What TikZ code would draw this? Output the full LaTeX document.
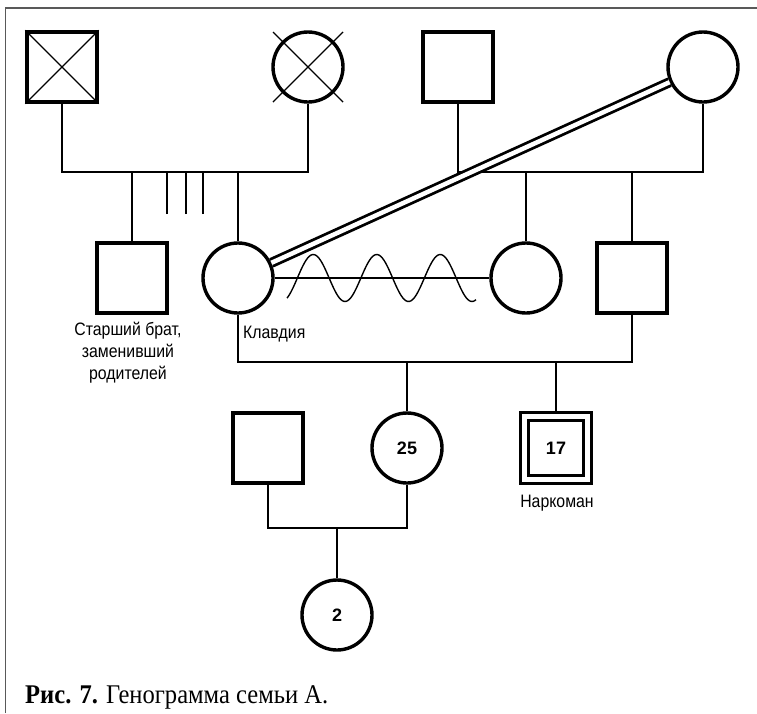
\documentclass[tikz,border=0pt]{standalone}
\usepackage{fontspec}
\setmainfont{Liberation Serif}
\newfontfamily\labfont[FakeStretch=0.88]{Liberation Sans}
\newfontfamily\numfont{Liberation Sans}
\newfontfamily\capfont[FakeStretch=0.91]{Liberation Serif}
\usetikzlibrary{calc}

\begin{document}
\begin{tikzpicture}[x=1pt,y=-1pt,
  male/.style={draw, rectangle, line width=3.4pt, minimum size=70pt, inner sep=0pt},
  female/.style={draw, circle, line width=3.4pt, minimum size=70pt, inner sep=0pt},
  link/.style={line width=2.7pt},
  cross/.style={line width=1.4pt},
  tie/.style={line width=2.8pt, double=white, double distance=4.5pt},
  lab/.style={font=\labfont\fontsize{18}{22}\selectfont, inner sep=0pt},
  age/.style={font=\numfont\bfseries\fontsize{18}{20}\selectfont},
]
\useasboundingbox (0,0) rectangle (757,713);

% frame
\draw[line width=1.6pt, black!65] (5.5,713) -- (5.5,8) -- (757,8);

% grandparents
\node[male]   (gf) at (62,67) {};
\node[female] (gm) at (308,67) {};
\node[male]   (f2) at (458,67) {};
\node[female] (m2) at (703,67) {};

% second generation
\node[male]   (brother) at (132,278) {};
\node[female] (klav)    at (238,278) {};
\node[female] (mid)     at (526,278) {};
\node[male]   (rsq)     at (632,278) {};

% third generation
\node[male]   (sil) at (268,448) {};
\node[female, age] (d25) at (407,448) {25};
\node[draw, rectangle, line width=2.2pt, minimum size=71pt, inner sep=0pt] (s17) at (556,448) {};
\node[draw, rectangle, line width=3.8pt, minimum size=55pt, inner sep=0pt, age] (s17in) at (s17) {17};

% fourth generation
\node[female, age] (g2) at (337,615) {2};

% deceased marks
\draw[cross] (gf.north west) -- (gf.south east) (gf.north east) -- (gf.south west);
\draw[cross] ($(gm)+(-35,-35)$) -- ($(gm)+(35,35)$) ($(gm)+(35,-35)$) -- ($(gm)+(-35,35)$);

% sibship bars
\coordinate (bar1) at (0,172);
\coordinate (bar2) at (0,362);
\coordinate (bar3) at (0,528);
\coordinate (t1) at (167,214);
\coordinate (t2) at (186,214);
\coordinate (t3) at (203,214);

\draw[link] (gf.south) -- (gf |- bar1) -| (gm.south);
\draw[link] (brother.north) -- (brother |- bar1);
\draw[link] (klav.north) -- (klav |- bar1);
\draw[link] (t1) -- (t1 |- bar1) (t2) -- (t2 |- bar1) (t3) -- (t3 |- bar1);

\draw[link] (f2.south) -- (f2 |- bar1) -| (m2.south);
\draw[link] (mid.north) -- (mid |- bar1);
\draw[link] (rsq.north) -- (rsq |- bar1);

\draw[link] (klav.south) -- (klav |- bar2) -| (rsq.south);
\draw[link] (d25.north) -- (d25 |- bar2);
\draw[link] (s17.north) -- (s17 |- bar2);

\draw[link] (sil.south) -- (sil |- bar3) -| (d25.south);
\draw[link] (g2.north) -- (g2 |- bar3);

% conflict between Klavdia and the middle woman
\draw[link] (klav) -- (mid);
\draw[cross, smooth] plot[domain=287:476, samples=120] (\x, {278+23.5*cos((\x-281.5)*5.6693)});

% close tie
\draw[tie] (klav) -- (m2);

% labels
\node[lab, align=center, anchor=north] (lbrother) at (128,322) {Старший брат,\\заменивший\\родителей};
\node[lab, anchor=base west] (lklav) at (243,338) {Клавдия};
\node[lab, anchor=base] (lnark) at (557,507) {Наркоман};

% caption
\node[anchor=base west, inner sep=0pt, font=\capfont\fontsize{27}{30}\selectfont] (cap) at (25,703) {\textbf{Рис. 7.} Генограмма семьи А.};
\end{tikzpicture}
\end{document}
